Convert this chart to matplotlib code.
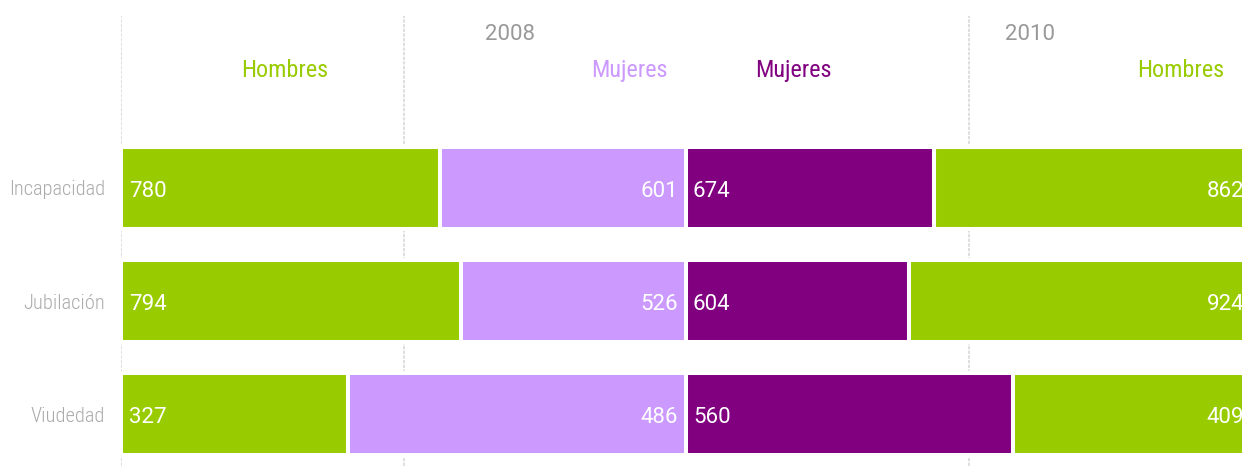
import matplotlib
matplotlib.use("Agg")
import matplotlib.pyplot as plt
from matplotlib import font_manager as fm
import numpy as np

# Pension counts by type, sex and year
categories = ["Incapacidad", "Jubilación", "Viudedad"]
hombres_2008 = [780, 794, 327]
mujeres_2008 = [601, 526, 486]
mujeres_2010 = [674, 604, 560]
hombres_2010 = [862, 924, 409]
years = ["2008", "2010"]

GREEN = "#99CC00"
LAVENDER = "#CC99FF"
PURPLE = "#800080"
GREY_TXT = "#999999"
CAT_TXT = "#ababab"
GRID = "#d9d9d9"

_installed = {f.name for f in fm.fontManager.ttflist}


def pick(*fams):
    for f in fams:
        if f in _installed:
            return f
    return "DejaVu Sans"


NARROW = pick("Roboto Condensed", "Archivo Narrow", "Asap Condensed",
              "Liberation Sans Narrow", "Roboto")
NUM = pick("Roboto", "DejaVu Sans")

W, H, DPI = 1242, 466, 100
fig = plt.figure(figsize=(W / DPI, H / DPI), dpi=DPI)
fig.patch.set_facecolor("white")

# axes runs past the right edge of the canvas
ax = fig.add_axes([121 / W, 0.0, 1130 / W, 450 / H])

h08 = np.array(hombres_2008, float)
m08 = np.array(mujeres_2008, float)
m10 = np.array(mujeres_2010, float)
h10 = np.array(hombres_2010, float)

# each year is stacked to 100 %: 2008 on [0, 100], 2010 on [100, 200]
sh_h08 = h08 / (h08 + m08) * 100
sh_m08 = m08 / (h08 + m08) * 100
sh_m10 = m10 / (m10 + h10) * 100
sh_h10 = h10 / (m10 + h10) * 100

y = np.arange(len(categories))
bh = 0.726
kw = dict(height=bh, edgecolor="white", linewidth=2.9, zorder=2)

ax.barh(y, sh_h08, left=0, color=GREEN, **kw)
ax.barh(y, sh_m08, left=sh_h08, color=LAVENDER, **kw)
ax.barh(y, sh_m10, left=100, color=PURPLE, **kw)
ax.barh(y, sh_h10, left=100 + sh_m10, color=GREEN, **kw)

for x in (0, 50, 150, 200):
    ax.axvline(x, color=GRID, lw=1.2, ls=(0, (2, 0.8)), zorder=0)

val_font = dict(family=NUM, fontsize=16, color="white", va="center_baseline",
                zorder=3)
dy = -0.5
for i in range(len(categories)):
    ax.annotate(f"{hombres_2008[i]}", (0, y[i]), xytext=(6, dy),
                textcoords="offset points", ha="left", **val_font)
    ax.annotate(f"{mujeres_2008[i]}", (100, y[i]), xytext=(-6, dy),
                textcoords="offset points", ha="right", **val_font)
    ax.annotate(f"{mujeres_2010[i]}", (100, y[i]), xytext=(5, dy),
                textcoords="offset points", ha="left", **val_font)
    ax.annotate(f"{hombres_2010[i]}", (200, y[i]), xytext=(-5, dy),
                textcoords="offset points", ha="right", **val_font)

# column headers
hdr = dict(family=NARROW, fontsize=17.5, va="center_baseline")
ax.text(28.9, -1.062, "Hombres", color=GREEN, ha="center", **hdr)
ax.text(96.8, -1.062, "Mujeres", color=LAVENDER, ha="right", **hdr)
ax.text(112.3, -1.062, "Mujeres", color=PURPLE, ha="left", **hdr)
ax.text(195.2, -1.062, "Hombres", color=GREEN, ha="right", **hdr)

yr = dict(family=NUM, fontsize=16, color=GREY_TXT, va="center_baseline",
          ha="center")
ax.text(68.8, -1.38, years[0], **yr)
ax.text(160.8, -1.38, years[1], **yr)

ax.set_xlim(0, 200)
ax.set_ylim(2.46, -1.522)
ax.set_yticks(y)
ax.set_yticklabels(categories, family=NARROW, fontsize=14.8, weight="light",
                   color=CAT_TXT)
ax.tick_params(axis="y", length=0, pad=11.5)
ax.set_xticks([])
for s in ax.spines.values():
    s.set_visible(False)
ax.set_facecolor("none")

fig.savefig("out.png", dpi=DPI, facecolor="white")
